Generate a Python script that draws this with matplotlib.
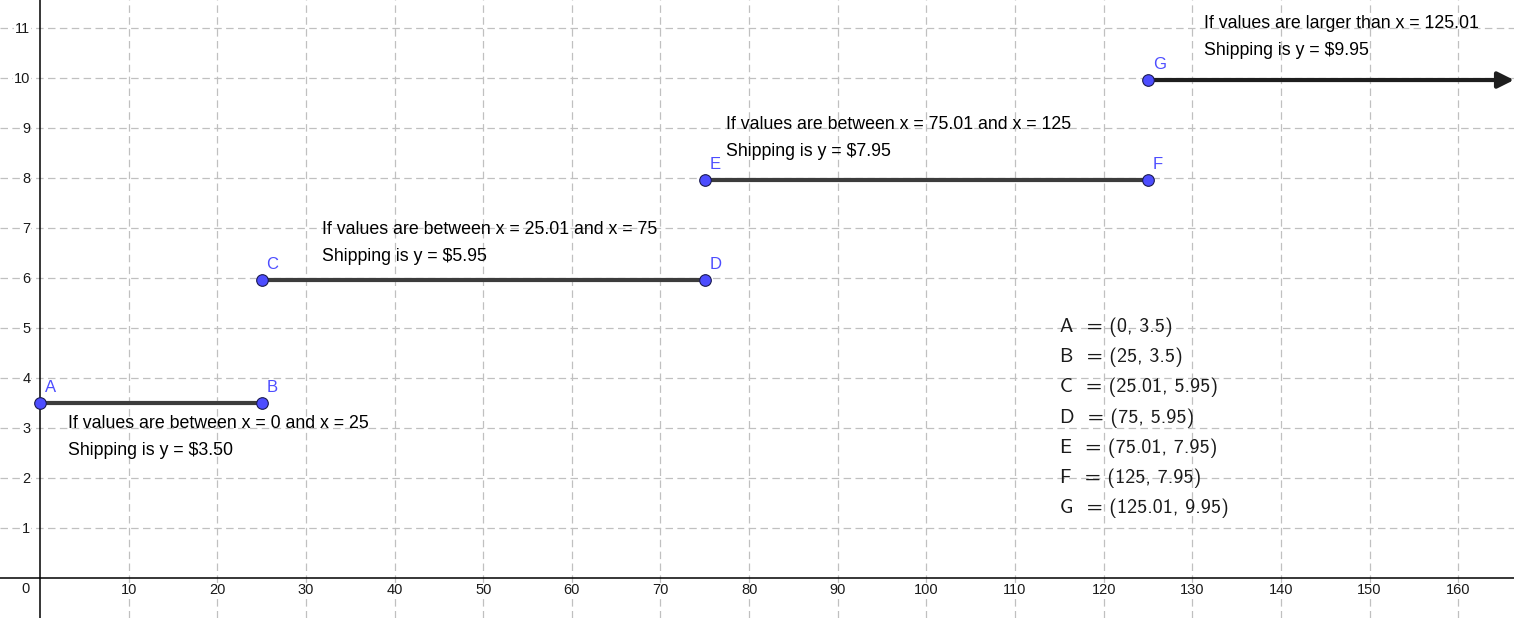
import matplotlib
matplotlib.use("Agg")
import matplotlib.pyplot as plt

plt.rcParams['font.family'] = ['Liberation Sans', 'DejaVu Sans']

# ---- data ----
point_names = ["A", "B", "C", "D", "E", "F", "G"]
point_x = [0, 25, 25.01, 75, 75.01, 125, 125.01]
point_y = [3.5, 3.5, 5.95, 5.95, 7.95, 7.95, 9.95]
segments = [("A", "B"), ("C", "D"), ("E", "F")]
ray_start = "G"

coord_labels = ["0, 3.5", "25, 3.5", "25.01, 5.95", "75, 5.95",
                "75.01, 7.95", "125, 7.95", "125.01, 9.95"]

notes = [
    ("If values are between x = 0 and x = 25", "Shipping is y = $3.50"),
    ("If values are between x = 25.01 and x = 75", "Shipping is y = $5.95"),
    ("If values are between x = 75.01 and x = 125", "Shipping is y = $7.95"),
    ("If values are larger than x = 125.01", "Shipping is y = $9.95"),
]
note_x = [3.2, 31.8, 77.4, 131.3]
note_y = [3.09, 6.97, 9.07, 11.09]

x_ticks = list(range(10, 170, 10))
y_ticks = list(range(1, 12))

# ---- style ----
POINT_COLOR = (77/255, 77/255, 255/255)
SEG_COLOR = "#3c3c3c"
GRID_COLOR = "#c0c0c0"

fig = plt.figure(figsize=(15.14, 6.18), dpi=100)
ax = fig.add_axes([0, 0, 1, 1])
ax.set_xlim(-4.51, 166.29)
ax.set_ylim(-0.806, 11.55)

ax.spines['left'].set_position(('data', 0))
ax.spines['bottom'].set_position(('data', 0))
ax.spines['right'].set_visible(False)
ax.spines['top'].set_visible(False)
for s in ('left', 'bottom'):
    ax.spines[s].set_linewidth(1.1)
    ax.spines[s].set_color('black')

ax.set_xticks(x_ticks)
ax.set_xticklabels([str(t) for t in x_ticks])
ax.set_yticks(y_ticks)
ax.set_yticklabels([str(t) for t in y_ticks])
ax.tick_params(axis='x', length=0, pad=4, labelsize=10.5, labelcolor='#1a1a1a')
ax.tick_params(axis='y', length=0, pad=7, labelsize=10.5, labelcolor='#1a1a1a')
for lbl in ax.get_xticklabels() + ax.get_yticklabels():
    lbl.set_bbox(dict(facecolor='white', edgecolor='none', pad=0.5))
ax.text(-1.2, -0.23, "0", fontsize=10.5, color='#1a1a1a', ha='right', va='center')

ax.grid(True, color=GRID_COLOR, linewidth=0.9, linestyle=(0, (6, 3.5)))
ax.set_axisbelow(True)

idx = {n: i for i, n in enumerate(point_names)}
for a, b in segments:
    ax.plot([point_x[idx[a]], point_x[idx[b]]], [point_y[idx[a]], point_y[idx[b]]],
            color=SEG_COLOR, linewidth=3.0, solid_capstyle='butt', zorder=3)

g = idx[ray_start]
ax.annotate("", xy=(ax.get_xlim()[1], point_y[g]), xytext=(point_x[g], point_y[g]),
            arrowprops=dict(arrowstyle='-|>', color='#1e1e1e', lw=3.0,
                            mutation_scale=24, shrinkA=0, shrinkB=0),
            zorder=3)

ax.scatter(point_x, point_y, s=70, color=POINT_COLOR, edgecolors='#1a1a50',
           linewidths=0.8, zorder=5, clip_on=False)
for n, x, y in zip(point_names, point_x, point_y):
    ax.annotate(n, (x, y), xytext=(3.5, 5.5), textcoords='offset points',
                fontsize=12, color=POINT_COLOR, ha='left', va='bottom')

for (l1, l2), x, y in zip(notes, note_x, note_y):
    ax.text(x, y, l1, fontsize=12.8, color='black', ha='left', va='center')
    ax.text(x, y - 0.54, l2, fontsize=12.8, color='black', ha='left', va='center')

for i, (n, c) in enumerate(zip(point_names, coord_labels)):
    ax.text(115.1, 5.01 - 0.605 * i, "%s  = (%s)" % (n, c),
            family='cmss10', fontsize=14.5, color='#1a1a1a', ha='left', va='center')

fig.savefig("out.png", dpi=100)
